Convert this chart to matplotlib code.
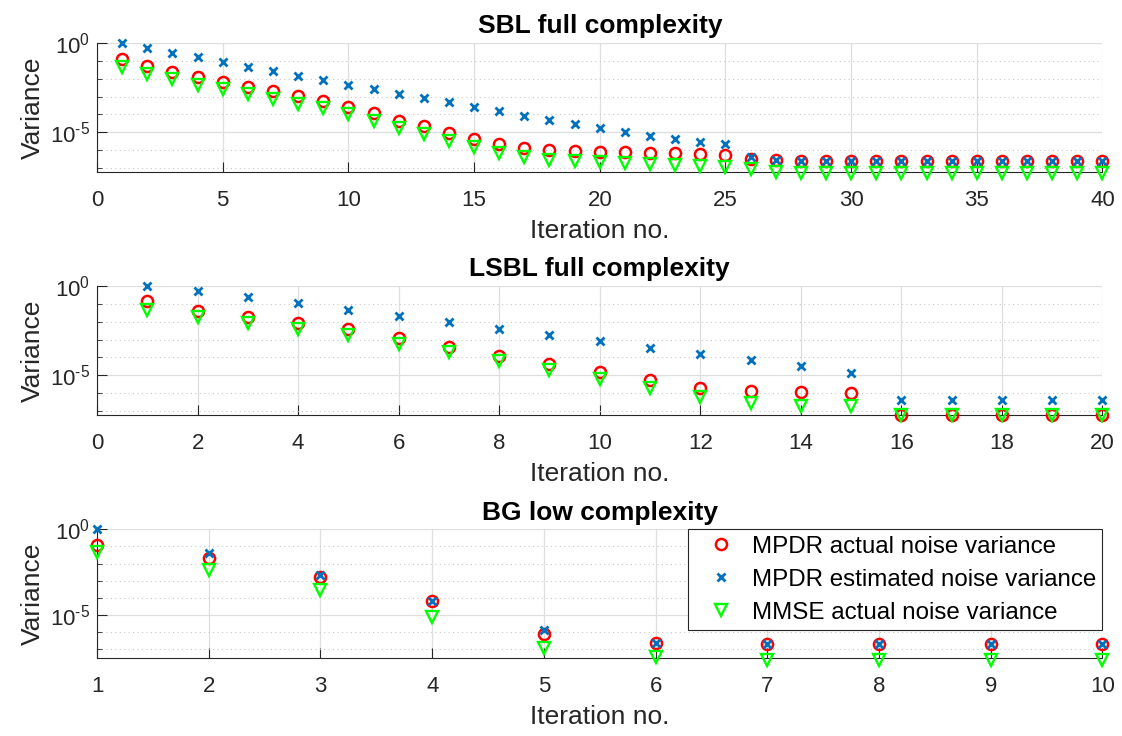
import numpy as np
import matplotlib
matplotlib.use("Agg")
import matplotlib.pyplot as plt
from matplotlib.ticker import FixedLocator, FixedFormatter, NullLocator

plt.rcParams['font.family'] = ['Liberation Sans', 'DejaVu Sans']
plt.rcParams['mathtext.fontset'] = 'custom'
plt.rcParams['mathtext.rm'] = 'Liberation Sans'
plt.rcParams['mathtext.it'] = 'Liberation Sans'
plt.rcParams['mathtext.default'] = 'regular'

# ---- data (variance values given as log10 exponents) ----
sbl_iter = list(range(1, 41))
sbl_mpdr_actual = [-0.91, -1.27, -1.62, -1.92, -2.18, -2.44, -2.70, -2.98, -3.26, -3.60,
                   -3.92, -4.35, -4.66, -5.02, -5.35, -5.65, -5.86, -5.97, -6.03, -6.08,
                   -6.10, -6.14, -6.17, -6.21, -6.27, -6.51, -6.57, -6.58, -6.58, -6.58,
                   -6.58, -6.58, -6.58, -6.58, -6.58, -6.58, -6.58, -6.58, -6.58, -6.58]
sbl_mpdr_est = [0.00, -0.30, -0.54, -0.80, -1.06, -1.34, -1.58, -1.85, -2.09, -2.35,
                -2.59, -2.85, -3.06, -3.32, -3.58, -3.82, -4.07, -4.29, -4.53, -4.77,
                -5.00, -5.20, -5.37, -5.54, -5.67, -6.36, -6.55, -6.58, -6.58, -6.58,
                -6.58, -6.58, -6.58, -6.58, -6.58, -6.58, -6.58, -6.58, -6.58, -6.58]
sbl_mmse_actual = [-1.36, -1.72, -2.03, -2.33, -2.57, -2.84, -3.12, -3.40, -3.66, -3.97,
                   -4.35, -4.74, -5.09, -5.47, -5.84, -6.16, -6.40, -6.57, -6.62, -6.68,
                   -6.73, -6.77, -6.83, -6.88, -6.96, -7.05, -7.24, -7.28, -7.28, -7.28,
                   -7.28, -7.28, -7.28, -7.28, -7.28, -7.28, -7.28, -7.28, -7.28, -7.28]

lsbl_iter = list(range(1, 21))
lsbl_mpdr_actual = [-0.82, -1.38, -1.72, -2.05, -2.42, -2.89, -3.40, -3.92, -4.37, -4.83,
                    -5.26, -5.69, -5.88, -5.95, -6.00, -7.23, -7.23, -7.23, -7.23, -7.23]
lsbl_mpdr_est = [0.00, -0.26, -0.63, -0.97, -1.34, -1.70, -2.03, -2.41, -2.74, -3.08,
                 -3.45, -3.81, -4.14, -4.48, -4.85, -6.36, -6.36, -6.36, -6.36, -6.36]
lsbl_mmse_actual = [-1.32, -1.72, -2.05, -2.39, -2.76, -3.23, -3.69, -4.20, -4.72, -5.22,
                    -5.69, -6.21, -6.56, -6.70, -6.75, -7.23, -7.23, -7.23, -7.23, -7.23]

bg_iter = list(range(1, 11))
bg_mpdr_actual = [-0.92, -1.70, -2.81, -4.19, -6.13, -6.62, -6.70, -6.70, -6.70, -6.70]
bg_mpdr_est = [0.00, -1.38, -2.67, -4.19, -5.88, -6.62, -6.70, -6.70, -6.70, -6.70]
bg_mmse_actual = [-1.33, -2.36, -3.53, -5.10, -6.91, -7.47, -7.64, -7.64, -7.64, -7.64]

series_labels = ['MPDR actual noise variance',
                 'MPDR estimated noise variance',
                 'MMSE actual noise variance']

panels = [
    dict(title='SBL full complexity', x=sbl_iter,
         ys=(sbl_mpdr_actual, sbl_mpdr_est, sbl_mmse_actual),
         xlim=(0, 40), xticks=list(range(0, 41, 5)), ybottom=-7.22,
         rect=[0.0865, 0.7663, 0.8961, 0.1753]),
    dict(title='LSBL full complexity', x=lsbl_iter,
         ys=(lsbl_mpdr_actual, lsbl_mpdr_est, lsbl_mmse_actual),
         xlim=(0, 20), xticks=list(range(0, 21, 2)), ybottom=-7.23,
         rect=[0.0865, 0.4361, 0.8961, 0.1753]),
    dict(title='BG low complexity', x=bg_iter,
         ys=(bg_mpdr_actual, bg_mpdr_est, bg_mmse_actual),
         xlim=(1, 10), xticks=list(range(1, 11)), ybottom=-7.53,
         rect=[0.0865, 0.1056, 0.8961, 0.1753]),
]

axis_col = '#262626'
fig = plt.figure(figsize=(11.22, 7.36), dpi=100)

for i, p in enumerate(panels):
    ax = fig.add_axes(p['rect'])
    x = np.array(p['x'])
    ya, ye, ym = [10.0 ** np.array(v) for v in p['ys']]
    ax.plot(x, ya, linestyle='none', marker='o', markersize=8, markerfacecolor='none',
            markeredgecolor='#FF0000', markeredgewidth=1.8, clip_on=False,
            label=series_labels[0], zorder=3)
    ax.plot(x, ye, linestyle='none', marker='x', markersize=5.5,
            markeredgecolor='#0072BD', markeredgewidth=2.0, clip_on=False,
            label=series_labels[1], zorder=4)
    ax.plot(x, ym, linestyle='none', marker='v', markersize=8.5, markerfacecolor='none',
            markeredgecolor='#00FF00', markeredgewidth=1.7, clip_on=False,
            label=series_labels[2], zorder=5)

    ax.set_yscale('log')
    ax.set_ylim(10.0 ** p['ybottom'], 1.0)
    ax.set_xlim(*p['xlim'])
    ax.set_xticks(p['xticks'])
    ax.xaxis.set_minor_locator(NullLocator())
    ax.yaxis.set_major_locator(FixedLocator([1e-5, 1e0]))
    ax.yaxis.set_major_formatter(FixedFormatter([r'$10^{\text{-}5}$', r'$10^{0}$']))
    ax.yaxis.set_minor_locator(FixedLocator([1e-7, 1e-6, 1e-4, 1e-3, 1e-2, 1e-1]))
    ax.yaxis.set_minor_formatter(FixedFormatter([]))

    for s in ('top', 'right'):
        ax.spines[s].set_visible(False)
    for s in ('left', 'bottom'):
        ax.spines[s].set_color(axis_col)
        ax.spines[s].set_linewidth(0.8)

    ax.tick_params(which='major', direction='in', length=7, width=0.8, color=axis_col,
                   labelcolor=axis_col, labelsize=16, pad=13)
    ax.tick_params(which='minor', direction='in', length=3.5, width=0.6, color=axis_col)
    ax.tick_params(axis='y', which='major', labelsize=16, pad=5)

    ax.grid(True, which='major', color='#dedede', linewidth=0.9, linestyle='-')
    ax.grid(True, which='minor', axis='y', color='#c8c8c8', linewidth=0.8,
            linestyle=(0, (1, 3)))
    ax.set_axisbelow(True)

    ax.set_title(p['title'], fontsize=19, fontweight='bold', pad=7, color='black')
    ax.set_xlabel('Iteration no.', fontsize=19, color=axis_col, labelpad=5.5)
    ax.set_ylabel('Variance', fontsize=19, color=axis_col, labelpad=4)

    if i == 2:
        leg = ax.legend(loc='upper right', bbox_to_anchor=(1.0, 1.0), borderaxespad=0,
                        prop={'size': 17.4}, fancybox=False, framealpha=1,
                        edgecolor=axis_col, handletextpad=0.15, labelspacing=0.45,
                        borderpad=0.27, handlelength=2.2)
        leg.get_frame().set_linewidth(0.8)
        leg.set_zorder(10)

fig.savefig('out.png', dpi=100, facecolor='white')
